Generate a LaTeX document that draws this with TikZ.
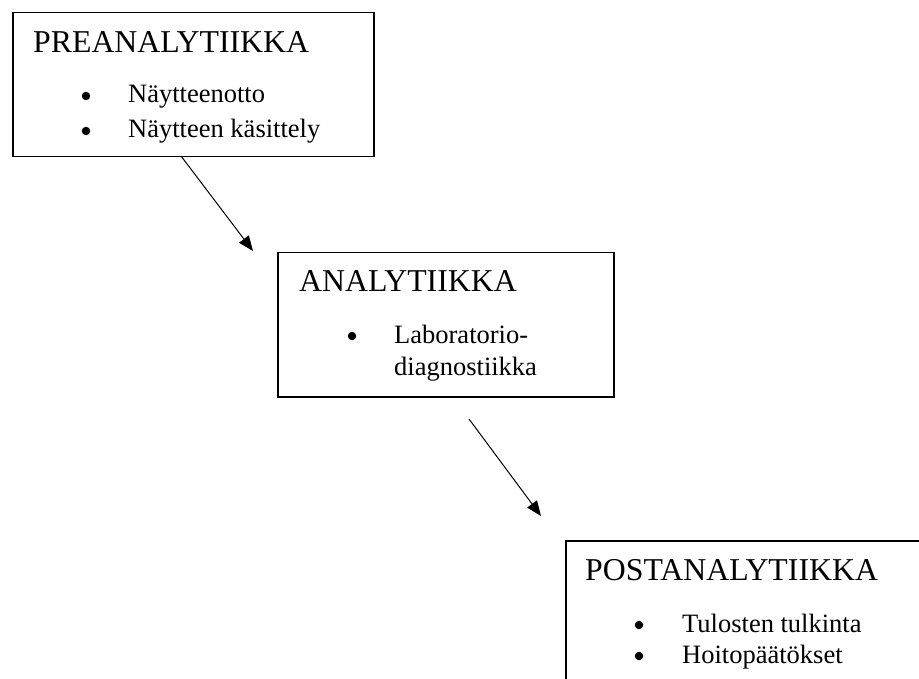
\documentclass[tikz,border=0pt]{standalone}
\usepackage{fontspec}
\setmainfont{Liberation Serif}
\usetikzlibrary{arrows.meta}
\tikzset{
  stagebox/.style={draw, line width=1.5pt, rectangle, anchor=north west, inner sep=0pt},
  titletext/.style={anchor=base west, inner sep=0pt, font=\fontsize{31.8}{38}\selectfont},
  itemtext/.style={anchor=base west, inner sep=0pt, font=\fontsize{26.5}{32}\selectfont},
  bulletdot/.style={circle, fill, minimum size=8.5pt, inner sep=0pt},
  flowarrow/.style={line width=1pt, -{Triangle[length=15pt,width=12pt]}}
}
\begin{document}
\begin{tikzpicture}[x=1pt,y=-1pt]
\useasboundingbox (0,0) rectangle (919,679);
\clip (0,0) rectangle (919,679);
\fill[white] (0,0) rectangle (919,679);
% boxes
\node[stagebox, minimum width=361pt, minimum height=144pt] (pre) at (12,12) {};
\node[stagebox, minimum width=336pt, minimum height=144pt] (ana) at (277,252) {};
\node[stagebox, minimum width=380pt, minimum height=160pt] (post) at (565,540) {};
% box 1 text
\node[titletext] (pretitle) at (33,53) {PREANALYTIIKKA};
\node[bulletdot] (preb1) at (86,96) {};
\node[itemtext] (prei1) at (128,103) {Näytteenotto};
\node[bulletdot] (preb2) at (86,131) {};
\node[itemtext] (prei2) at (128,138) {Näytteen käsittely};
% box 2 text
\node[titletext] (anatitle) at (299,292) {ANALYTIIKKA};
\node[bulletdot] (anab1) at (352,336) {};
\node[itemtext] (anai1) at (394,343) {Laboratorio-};
\node[itemtext] (anai2) at (394,375) {diagnostiikka};
% box 3 text
\node[titletext] (posttitle) at (585,580) {POSTANALYTIIKKA};
\node[bulletdot] (postb1) at (639,625) {};
\node[itemtext] (posti1) at (682,632) {Tulosten tulkinta};
\node[bulletdot] (postb2) at (639,656) {};
\node[itemtext] (posti2) at (682,663) {Hoitopäätökset};
% arrows
\coordinate (a1s) at (181,156);
\coordinate (a1e) at (253,251);
\coordinate (a2s) at (469,419);
\coordinate (a2e) at (541,516);
\draw[flowarrow] (a1s) -- (a1e);
\draw[flowarrow] (a2s) -- (a2e);
\end{tikzpicture}
\end{document}
